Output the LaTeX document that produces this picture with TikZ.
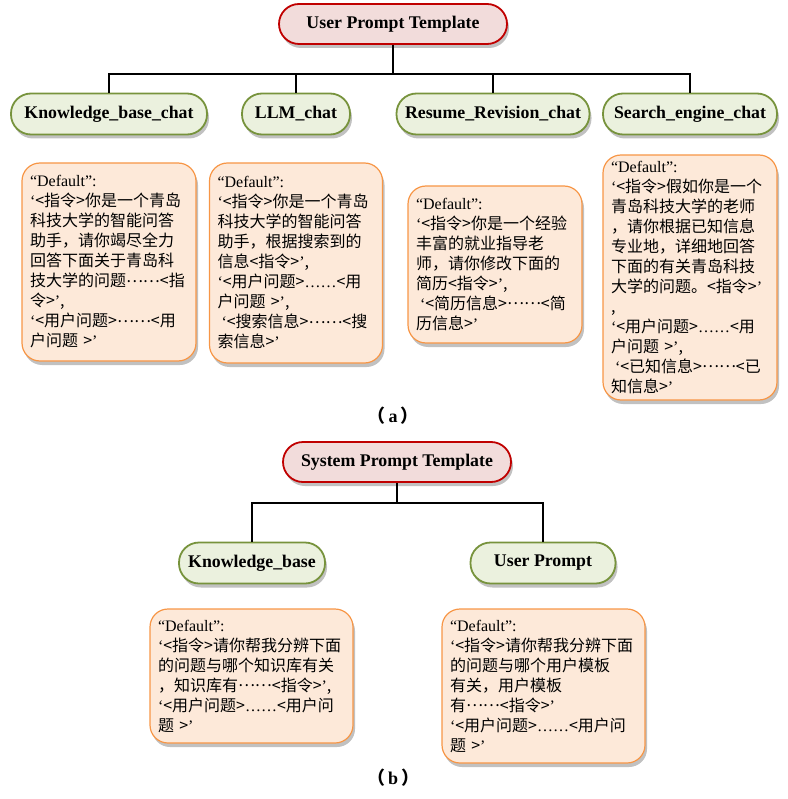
\documentclass[tikz,border=0pt]{standalone}
\usepackage{fontspec}
\setmainfont{Liberation Serif}
\newfontfamily\cjk{Noto Sans CJK SC}
\usetikzlibrary{shadows}
\definecolor{rootfill}{HTML}{F2DCDB}
\definecolor{rootdraw}{HTML}{C00000}
\definecolor{greenfill}{HTML}{EBF1DE}
\definecolor{greendraw}{HTML}{77933C}
\definecolor{boxfill}{HTML}{FDE9D9}
\definecolor{boxdraw}{HTML}{F79646}
\newcommand{\myql}{{\rmfamily ‘}}
\newcommand{\myqr}{{\rmfamily ’}}
\newcommand{\mydef}{{\rmfamily “Default”:}}
\newcommand{\mydots}{{\rmfamily ……}}
\newcommand{\mymid}{\raisebox{0.3em}{……}}
\tikzset{
  myshadow/.style={drop shadow={shadow xshift=2pt, shadow yshift=-4pt, opacity=0.35, fill=black!70}},
  rootnode/.style={draw=rootdraw, fill=rootfill, line width=1.8pt, rounded corners=20pt,
    minimum width=228pt, minimum height=40pt, inner sep=0pt,
    font=\bfseries\fontsize{17.8}{20}\selectfont, myshadow},
  leafnode/.style={draw=greendraw, fill=greenfill, line width=1.8pt, rounded corners=20pt,
    minimum height=41pt, inner sep=0pt,
    font=\bfseries\fontsize{17.8}{20}\selectfont, myshadow},
  textbox/.style={draw=boxdraw, fill=boxfill, line width=1.2pt, rounded corners=18pt,
    inner xsep=8pt, inner ysep=0pt, align=left,
    font=\cjk\fontsize{16}{20}\selectfont, myshadow},
  conn/.style={draw=black, line width=1.6pt},
  caption/.style={font=\bfseries\fontsize{18}{20}\selectfont}
}
\begin{document}
\begin{tikzpicture}[x=1pt,y=-1pt]
\useasboundingbox (0,0) rectangle (787,799);

% ---------- (a) ----------
\node[rootnode] (ra) at (393,24) {User Prompt Template};
\node[leafnode, minimum width=196pt] (kbc) at (109,114) {Knowledge\_base\_chat};
\node[leafnode, minimum width=108pt] (llm) at (296,114) {LLM\_chat};
\node[leafnode, minimum width=193pt] (rrc) at (493,114) {Resume\_Revision\_chat};
\node[leafnode, minimum width=174pt] (sec) at (690,114) {Search\_engine\_chat};
\coordinate (ja) at (393,74);
\draw[conn] (ra.south) -- (ja);
\draw[conn] (ja) -| (kbc.north);
\draw[conn] (ja) -| (llm.north);
\draw[conn] (ja) -| (rrc.north);
\draw[conn] (ja) -| (sec.north);

\node[textbox, text width=158pt, minimum height=198pt] (t1) at (109,262) {\mydef\\
\myql<指令>你是一个青岛\\
科技大学的智能问答\\
助手，请你竭尽全力\\
回答下面关于青岛科\\
技大学的问题\mymid<指\\
令>\myqr,\\
\myql<用户问题>\mymid<用\\
户问题 >\myqr};

\node[textbox, text width=157pt, minimum height=200pt] (t2) at (296,263) {\mydef\\
\myql<指令>你是一个青岛\\
科技大学的智能问答\\
助手，根据搜索到的\\
信息<指令>\myqr,\\
\myql<用户问题>\mydots<用\\
户问题 >\myqr,\\
\hspace{4pt}\myql<搜索信息>\mymid<搜\\
索信息>\myqr};

\node[textbox, text width=158pt, minimum height=157pt] (t3) at (495,264.5) {\mydef\\
\myql<指令>你是一个经验\\
丰富的就业指导老\\
师，请你修改下面的\\
简历<指令>\myqr,\\
\hspace{4pt}\myql<简历信息>\mymid<简\\
历信息>\myqr};

\node[textbox, text width=158pt, minimum height=245pt] (t4) at (690,277.5) {\mydef\\
\myql<指令>假如你是一个\\
青岛科技大学的老师\\
，请你根据已知信息\\
专业地，详细地回答\\
下面的有关青岛科技\\
大学的问题。<指令>\myqr\\
,\\
\myql<用户问题>\mydots<用\\
户问题 >\myqr,\\
\hspace{4pt}\myql<已知信息>\mymid<已\\
知信息>\myqr};

\node[caption] (capa) at (393,416) {{\cjk （}\,a\,{\cjk ）}};

% ---------- (b) ----------
\node[rootnode] (rb) at (397,462) {System Prompt Template};
\node[leafnode, minimum width=146pt] (kb) at (252,563) {Knowledge\_base};
\node[leafnode, minimum width=145pt] (up) at (543,563) {User Prompt};
\coordinate (jb) at (397,503);
\draw[conn] (rb.south) -- (jb);
\draw[conn] (jb) -| (kb.north);
\draw[conn] (jb) -| (up.north);

\node[textbox, text width=187pt, minimum height=134pt] (t5) at (251.5,676) {\mydef\\
\myql<指令>请你帮我分辨下面\\
的问题与哪个知识库有关\\
，知识库有\mymid<指令>\myqr,\\
\myql<用户问题>\mydots<用户问\\
题 >\myqr};

\node[textbox, text width=187pt, minimum height=154pt] (t6) at (543.5,686) {\mydef\\
\myql<指令>请你帮我分辨下面\\
的问题与哪个用户模板\\
有关，用户模板\\
有\mymid<指令>\myqr\\
\myql<用户问题>\mydots<用户问\\
题 >\myqr};

\node[caption] (capb) at (393,778) {{\cjk （}\,b\,{\cjk ）}};
\end{tikzpicture}
\end{document}
